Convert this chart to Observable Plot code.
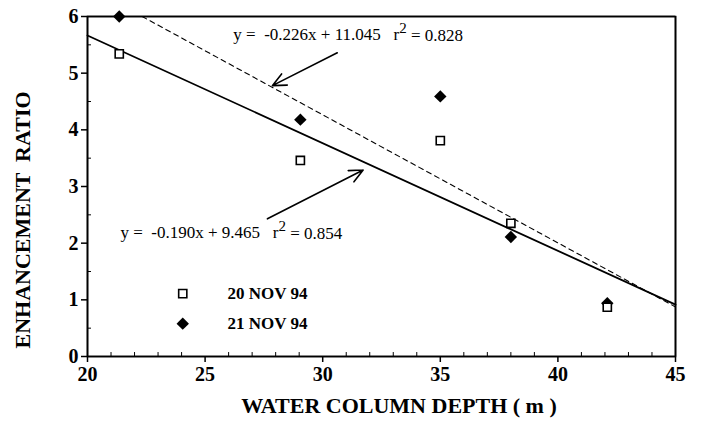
<!DOCTYPE html>
<html><head><meta charset="utf-8">
<script src="https://cdn.jsdelivr.net/npm/d3@7"></script>
<script src="https://cdn.jsdelivr.net/npm/@observablehq/plot@0.6"></script>
<style>
body{margin:0;background:#fff;}
svg{font-family:"Liberation Serif",serif;}
</style></head><body><div id="chart"></div>
<script>
const depth = [21.35, 29.05, 35.0, 38.0, 42.1];
const nov20 = [5.34, 3.46, 3.81, 2.35, 0.87];
const nov21 = [6.0, 4.18, 4.59, 2.11, 0.94];
const seriesNames = ["20 NOV 94", "21 NOV 94"];
const fitSlope = [-0.190, -0.226];
const fitIntercept = [9.465, 11.045];
const fitLabel = ["y =  -0.190x + 9.465   r", "y =  -0.226x + 11.045   r"];
const fitR2 = ["0.854", "0.828"];
const xTicks = [20, 25, 30, 35, 40, 45];
const yTicks = [0, 1, 2, 3, 4, 5, 6];
const xMinor = d3.range(21, 45, 1).filter(v => v % 5 !== 0);
const yMinor = [0.5, 1.5, 2.5, 3.5, 4.5, 5.5];
const xDomain = [20, 45];
const yDomain = [0, 6];

const pts20 = depth.map((d, i) => ({x: d, y: nov20[i]}));
const pts21 = depth.map((d, i) => ({x: d, y: nov21[i]}));
const fitLine = (k) => {
  const a = fitSlope[k], b = fitIntercept[k];
  let x0 = xDomain[0];
  if (a * x0 + b > yDomain[1]) x0 = (yDomain[1] - b) / a;
  return [{x: x0, y: a * x0 + b}, {x: xDomain[1], y: a * xDomain[1] + b}];
};
// annotation anchors (data units)
const arrows = [
  {x1: 30.62, y1: 5.36, x2: 27.86, y2: 4.78},
  {x1: 27.65, y1: 2.43, x2: 31.72, y2: 3.29}
];
const labels = [
  {x: 21.4, y: 2.19, t: fitLabel[0]},
  {x: 26.2, y: 5.68, t: fitLabel[1]}
];
const legend20 = [{x: 24.05, y: 1.11, name: seriesNames[0]}];
const legend21 = [{x: 24.05, y: 0.58, name: seriesNames[1]}];

const chart = Plot.plot({
  width: 701, height: 421,
  marginLeft: 87, marginRight: 26, marginTop: 16, marginBottom: 65,
  style: {fontFamily: "Liberation Serif", background: "#fff", color: "#000"},
  x: {domain: xDomain},
  y: {domain: yDomain},
  marks: [
    Plot.axisX({ticks: xTicks, tickSize: 6, tickPadding: 4, fontSize: 20, fontWeight: "bold", label: null, tickFormat: d => d, strokeWidth: 1.5}),
    Plot.axisY({ticks: yTicks, tickSize: 6, tickPadding: 3, fontSize: 20, fontWeight: "bold", label: null, tickFormat: d => d, strokeWidth: 1.5}),
    Plot.line(fitLine(0), {x: "x", y: "y", stroke: "#000", strokeWidth: 1.8}),
    Plot.line(fitLine(1), {x: "x", y: "y", stroke: "#000", strokeWidth: 1.1, strokeDasharray: "5,4"}),
    Plot.arrow(arrows, {x1: "x1", y1: "y1", x2: "x2", y2: "y2", stroke: "#000", strokeWidth: 1.6, headLength: 14, headAngle: 50}),
    Plot.dot(pts21, {x: "x", y: "y", symbol: "diamond2", r: 5.6, fill: "#000", stroke: "none"}),
    Plot.dot(pts20, {x: "x", y: "y", symbol: "square", r: 4.6, fill: "#fff", stroke: "#000", strokeWidth: 1.6}),
    Plot.dot(legend20, {x: "x", y: "y", symbol: "square", r: 4.6, fill: "#fff", stroke: "#000", strokeWidth: 1.6}),
    Plot.dot(legend21, {x: "x", y: "y", symbol: "diamond2", r: 5.6, fill: "#000", stroke: "none"}),
    Plot.text(legend20.concat(legend21), {x: 25.95, y: "y", text: "name", textAnchor: "start", fontSize: 17, fontWeight: "bold"}),
    Plot.text(labels, {x: "x", y: "y", text: "t", textAnchor: "start", fontSize: 17}),
    Plot.ruleX(xMinor, {x: d => d, y1: 0, y2: 0.07, stroke: "#000", strokeWidth: 1}),
    Plot.ruleY(yMinor, {y: d => d, x1: 20, x2: 20.17, stroke: "#000", strokeWidth: 1}),
    Plot.ruleY([yDomain[1]], {stroke: "#000", strokeWidth: 1.6}),
    Plot.ruleX([xDomain[1]], {stroke: "#000", strokeWidth: 1.6}),
    Plot.ruleY([yDomain[0]], {stroke: "#000", strokeWidth: 1.6}),
    Plot.ruleX([xDomain[0]], {stroke: "#000", strokeWidth: 1.6}),
    Plot.frame({stroke: "#000", strokeWidth: 1.6})
  ]
});

// add r² superscript and value after each fit label
d3.select(chart).selectAll("text").each(function() {
  const s = d3.select(this);
  const k = fitLabel.indexOf(s.text());
  if (k >= 0) {
    s.append("tspan").attr("dy", "-0.45em").attr("font-size", 15).text("2");
    s.append("tspan").attr("dy", "0.45em").text(" = " + fitR2[k]);
  }
});

const svg = d3.select(chart);
svg.append("text")
  .attr("x", 399).attr("y", 413)
  .attr("text-anchor", "middle")
  .attr("font-size", 22).attr("font-weight", "bold")
  .attr("font-family", "Liberation Serif")
  .text("WATER COLUMN DEPTH ( m )");
svg.append("text")
  .attr("transform", "translate(30,220) rotate(-90)")
  .attr("text-anchor", "middle")
  .attr("font-size", 22).attr("font-weight", "bold")
  .attr("font-family", "Liberation Serif")
  .text("ENHANCEMENT  RATIO");

document.getElementById("chart").appendChild(chart);
</script></body></html>
